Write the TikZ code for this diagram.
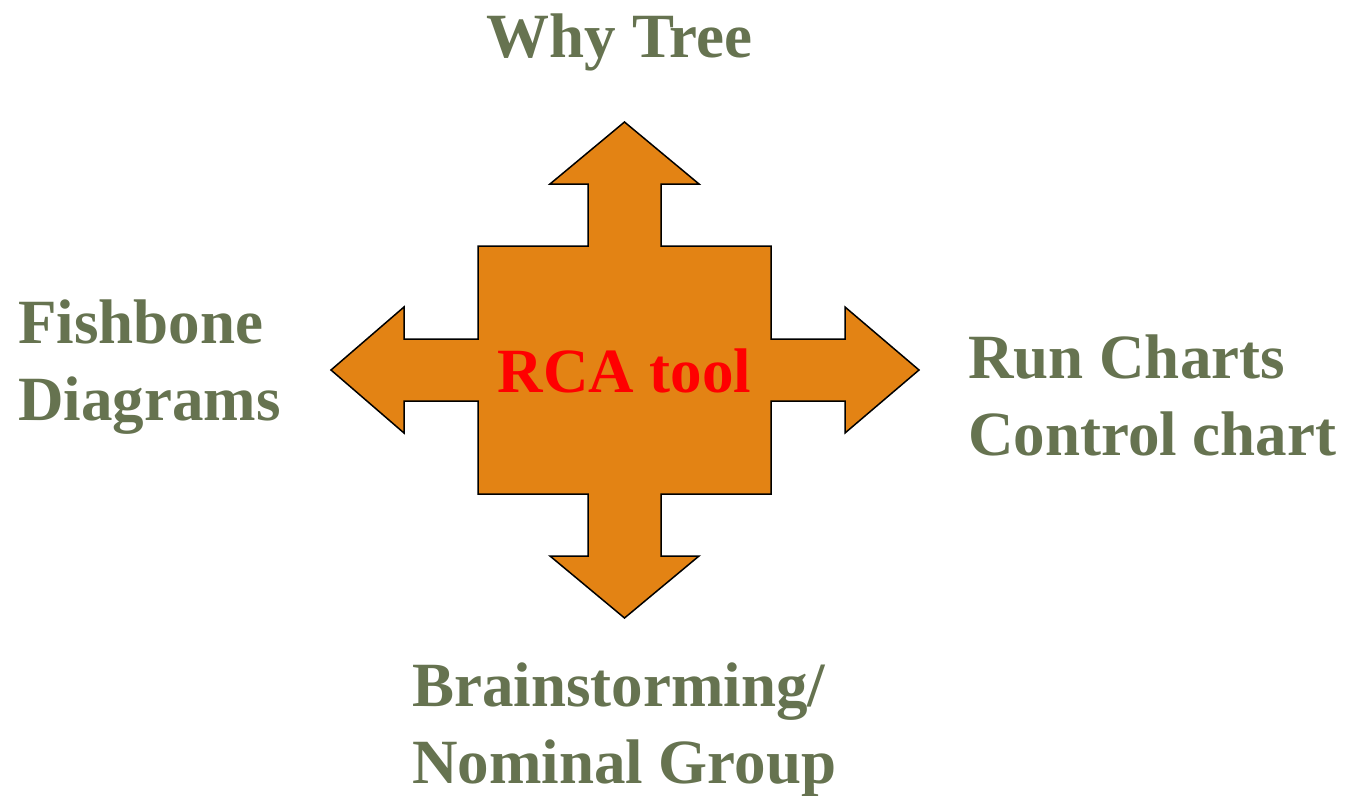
\documentclass[tikz,border=0pt]{standalone}
\usepackage{fontspec}
\setmainfont{Liberation Serif}
\usepackage{tikz}

\definecolor{toolgreen}{HTML}{667350}
\definecolor{arroworange}{HTML}{E38314}

\tikzset{
    crossarrow/.style={draw=black, line width=1.5pt, line join=miter, fill=arroworange},
    tooltext/.style={inner sep=0pt, text=toolgreen, align=left,
        font=\fontsize{63}{77}\selectfont\bfseries},
}

\begin{document}
\begin{tikzpicture}[x=1pt, y=-1pt]
    % Page frame
    \useasboundingbox (0,0) rectangle (1348,795);

    % Four-way arrow
    \draw[crossarrow] (624.5,122) -- (699,184) -- (661,184) -- (661,246)
        -- (771,246) -- (771,339) -- (845,339) -- (845,307) -- (919,370)
        -- (845,433) -- (845,401) -- (771,401) -- (771,494) -- (661,494)
        -- (661,556) -- (699,556) -- (624.5,618) -- (550,556) -- (588,556)
        -- (588,494) -- (478,494) -- (478,401) -- (404,401) -- (404,433)
        -- (331,370) -- (404,307) -- (404,339) -- (478,339) -- (478,246)
        -- (588,246) -- (588,184) -- (550,184) -- cycle;

    % Centre text
    \node[tooltext, text=red, anchor=base] (rca) at (624.5,392) {RCA tool};

    % Tools round the arrow (base = last line)
    \node[tooltext, anchor=base] (why) at (619.5,57) {Why Tree};
    \node[tooltext, anchor=base west] (fish) at (18,420) {Fishbone\\Diagrams};
    \node[tooltext, anchor=base west] (run) at (968,455) {Run Charts\\Control chart};
    \node[tooltext, anchor=base west] (brain) at (412,783) {Brainstorming/\\Nominal Group};
\end{tikzpicture}
\end{document}
